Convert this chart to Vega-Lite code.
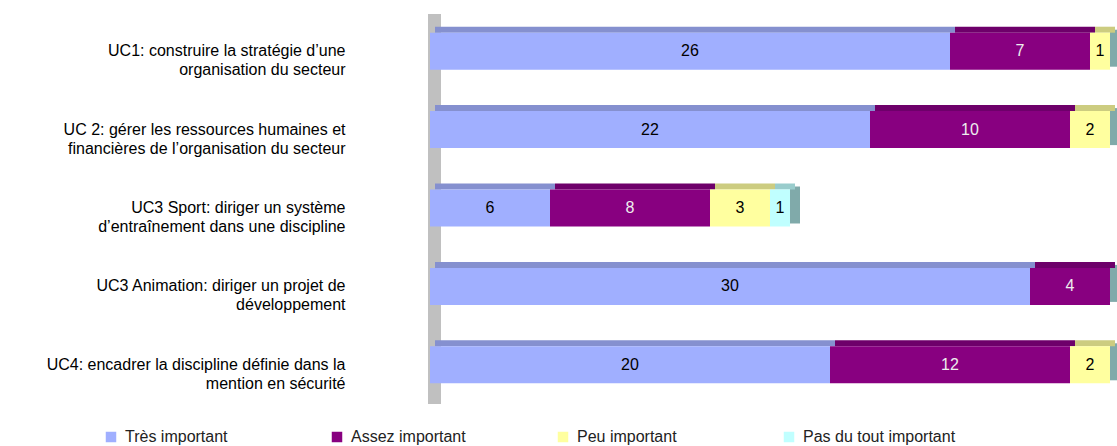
{
  "$schema": "https://vega.github.io/schema/vega-lite/v6.json",
  "autosize": "none",
  "width": 687,
  "height": 392,
  "padding": {"left": 430, "top": 12, "right": 0, "bottom": 42},
  "background": "white",
  "config": {"font": "Liberation Sans", "view": {"stroke": null}},
  "datasets": {
    "rows": [
      {"cat": "UC1: construire la stratégie d’une|organisation du secteur", "level": "Très important", "ord": 1, "value": 26},
      {"cat": "UC1: construire la stratégie d’une|organisation du secteur", "level": "Assez important", "ord": 2, "value": 7},
      {"cat": "UC1: construire la stratégie d’une|organisation du secteur", "level": "Peu important", "ord": 3, "value": 1},
      {"cat": "UC 2: gérer les ressources humaines et|financières de l’organisation du secteur", "level": "Très important", "ord": 1, "value": 22},
      {"cat": "UC 2: gérer les ressources humaines et|financières de l’organisation du secteur", "level": "Assez important", "ord": 2, "value": 10},
      {"cat": "UC 2: gérer les ressources humaines et|financières de l’organisation du secteur", "level": "Peu important", "ord": 3, "value": 2},
      {"cat": "UC3 Sport: diriger un système|d’entraînement dans une discipline", "level": "Très important", "ord": 1, "value": 6},
      {"cat": "UC3 Sport: diriger un système|d’entraînement dans une discipline", "level": "Assez important", "ord": 2, "value": 8},
      {"cat": "UC3 Sport: diriger un système|d’entraînement dans une discipline", "level": "Peu important", "ord": 3, "value": 3},
      {"cat": "UC3 Sport: diriger un système|d’entraînement dans une discipline", "level": "Pas du tout important", "ord": 4, "value": 1},
      {"cat": "UC3 Animation: diriger un projet de|développement", "level": "Très important", "ord": 1, "value": 30},
      {"cat": "UC3 Animation: diriger un projet de|développement", "level": "Assez important", "ord": 2, "value": 4},
      {"cat": "UC4: encadrer la discipline définie dans la|mention en sécurité", "level": "Très important", "ord": 1, "value": 20},
      {"cat": "UC4: encadrer la discipline définie dans la|mention en sécurité", "level": "Assez important", "ord": 2, "value": 12},
      {"cat": "UC4: encadrer la discipline définie dans la|mention en sécurité", "level": "Peu important", "ord": 3, "value": 2}
    ],
    "totals": [
      {"cat": "UC1: construire la stratégie d’une|organisation du secteur", "total": 34},
      {"cat": "UC 2: gérer les ressources humaines et|financières de l’organisation du secteur", "total": 34},
      {"cat": "UC3 Sport: diriger un système|d’entraînement dans une discipline", "total": 18},
      {"cat": "UC3 Animation: diriger un projet de|développement", "total": 34},
      {"cat": "UC4: encadrer la discipline définie dans la|mention en sécurité", "total": 34}
    ],
    "wall": [{"part": "mur"}]
  },
  "layer": [
    {
      "data": {"name": "wall"},
      "mark": {"type": "rect", "color": "#C0C0C0", "yOffset": 2, "y2Offset": 8},
      "encoding": {
        "x": {"datum": -0.1, "type": "quantitative", "scale": {"domain": [0, 34.35], "nice": false, "zero": false}, "axis": null},
        "x2": {"datum": 0.55}
      }
    },
    {
      "data": {"name": "totals"},
      "mark": {"type": "bar", "color": "#80AAAA", "height": 37, "yOffset": -3, "x2Offset": 10},
      "encoding": {
        "y": {"field": "cat", "type": "nominal", "sort": null},
        "x": {"field": "total", "type": "quantitative"},
        "x2": {"field": "total"}
      }
    },
    {
      "data": {"name": "rows"},
      "transform": [
        {"stack": "value", "groupby": ["cat"], "sort": [{"field": "ord"}], "as": ["v0", "v1"]}
      ],
      "mark": {"type": "bar", "height": 6, "yOffset": -21.5, "xOffset": 5, "x2Offset": 5},
      "encoding": {
        "y": {"field": "cat", "type": "nominal", "sort": null},
        "x": {"field": "v0", "type": "quantitative"},
        "x2": {"field": "v1"},
        "color": {"condition": [
          {"test": "datum.level === 'Très important'", "value": "#8590CF"},
          {"test": "datum.level === 'Assez important'", "value": "#6E006A"},
          {"test": "datum.level === 'Peu important'", "value": "#CCCC80"}
        ], "value": "#99CCCC"}
      }
    },
    {
      "data": {"name": "rows"},
      "transform": [
        {"stack": "value", "groupby": ["cat"], "sort": [{"field": "ord"}], "as": ["v0", "v1"]}
      ],
      "mark": {"type": "bar", "height": 37},
      "encoding": {
        "y": {"field": "cat", "type": "nominal", "sort": null,
          "axis": {"title": null, "domain": false, "ticks": false, "labelExpr": "split(datum.label, '|')",
                   "labelFontSize": 16, "labelColor": "#000000", "labelAlign": "right", "labelBaseline": "middle",
                   "labelLineHeight": 19, "labelPadding": 85, "labelLimit": 500, "labelFont": "Liberation Sans"}},
        "x": {"field": "v0", "type": "quantitative"},
        "x2": {"field": "v1"},
        "color": {"field": "level", "type": "nominal",
          "scale": {"domain": ["Très important", "Assez important", "Peu important", "Pas du tout important"],
                    "range": ["#A0AFFF", "#880080", "#FFFF9F", "#C0FFFF"]},
          "legend": {"title": null, "orient": "none", "legendX": -327, "legendY": 417, "direction": "horizontal",
                     "columns": 4, "gridAlign": "all", "columnPadding": 51, "symbolType": "square", "symbolSize": 110,
                     "symbolStrokeWidth": 0, "symbolOpacity": 1, "labelFontSize": 16, "labelColor": "#222222",
                     "labelOffset": 6, "labelLimit": 300, "labelFont": "Liberation Sans"}}
      }
    },
    {
      "data": {"name": "rows"},
      "transform": [
        {"stack": "value", "groupby": ["cat"], "sort": [{"field": "ord"}], "as": ["v0", "v1"]},
        {"calculate": "(datum.v0 + datum.v1) / 2", "as": "mid"}
      ],
      "mark": {"type": "text", "fontSize": 16, "baseline": "middle", "align": "center"},
      "encoding": {
        "y": {"field": "cat", "type": "nominal", "sort": null},
        "x": {"field": "mid", "type": "quantitative"},
        "text": {"field": "value", "type": "quantitative"},
        "color": {"condition": {"test": "datum.level === 'Assez important'", "value": "#EEEEEE"}, "value": "#000000"}
      }
    }
  ]
}
